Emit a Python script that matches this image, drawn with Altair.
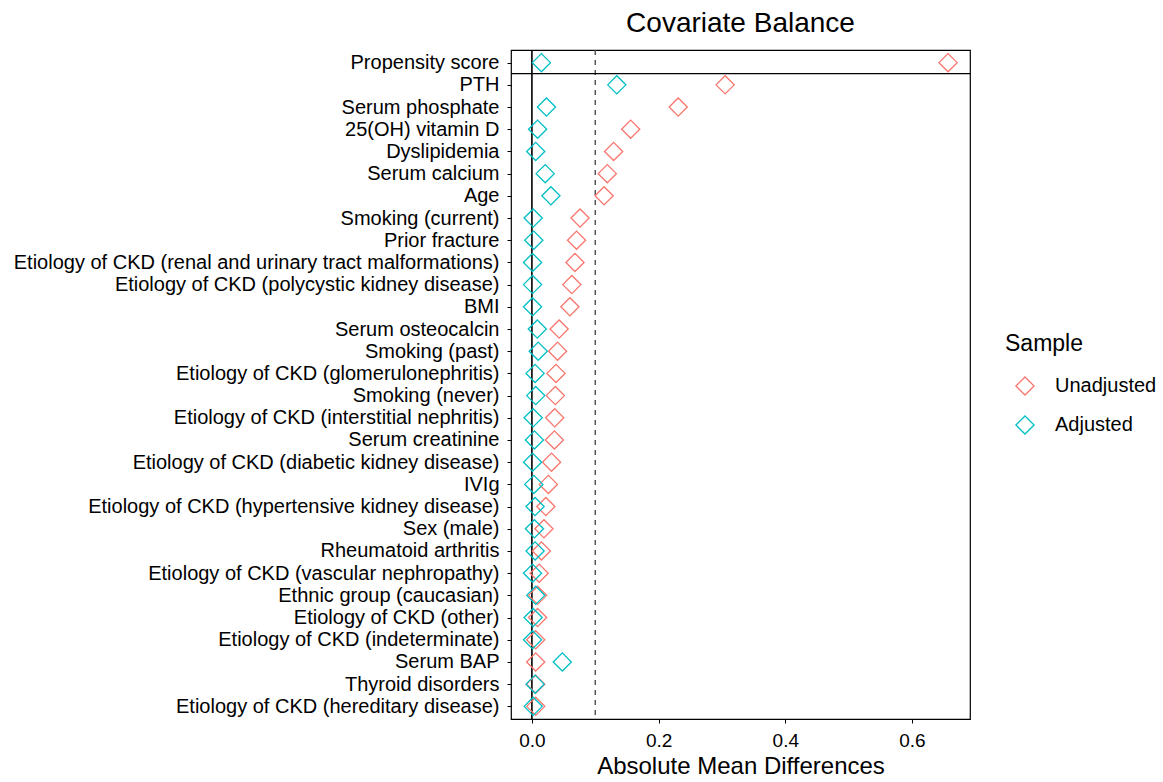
import altair as alt
import pandas as pd

# Covariates, in display order (top to bottom)
variables = [
    "Propensity score",
    "PTH",
    "Serum phosphate",
    "25(OH) vitamin D",
    "Dyslipidemia",
    "Serum calcium",
    "Age",
    "Smoking (current)",
    "Prior fracture",
    "Etiology of CKD (renal and urinary tract malformations)",
    "Etiology of CKD (polycystic kidney disease)",
    "BMI",
    "Serum osteocalcin",
    "Smoking (past)",
    "Etiology of CKD (glomerulonephritis)",
    "Smoking (never)",
    "Etiology of CKD (interstitial nephritis)",
    "Serum creatinine",
    "Etiology of CKD (diabetic kidney disease)",
    "IVIg",
    "Etiology of CKD (hypertensive kidney disease)",
    "Sex (male)",
    "Rheumatoid arthritis",
    "Etiology of CKD (vascular nephropathy)",
    "Ethnic group (caucasian)",
    "Etiology of CKD (other)",
    "Etiology of CKD (indeterminate)",
    "Serum BAP",
    "Thyroid disorders",
    "Etiology of CKD (hereditary disease)",
]

# Absolute mean differences before and after adjustment
unadjusted = [
    0.657, 0.305, 0.231, 0.156, 0.129, 0.119, 0.114, 0.076, 0.0705, 0.068,
    0.063, 0.060, 0.043, 0.0405, 0.038, 0.037, 0.036, 0.0355, 0.031, 0.026,
    0.022, 0.019, 0.015, 0.0115, 0.009, 0.009, 0.006, 0.006, 0.006, 0.006,
]
adjusted = [
    0.015, 0.134, 0.023, 0.009, 0.006, 0.021, 0.030, 0.002, 0.003, 0.001,
    0.001, 0.001, 0.0085, 0.010, 0.005, 0.006, 0.002, 0.004, 0.001, 0.003,
    0.005, 0.004, 0.005, 0.001, 0.006, 0.002, 0.001, 0.048, 0.005, 0.002,
]

samples = ["Unadjusted", "Adjusted"]
sample_colors = ["#F8766D", "#00BFC4"]

x_ticks = [0.0, 0.2, 0.4, 0.6]
threshold = [0.1]

rows = []
for name, vals in zip(samples, [unadjusted, adjusted]):
    for var, v in zip(variables, vals):
        rows.append({"Variable": var, "Sample": name, "Diff": v})
df = pd.DataFrame(rows)

FONT = "Liberation Sans"

x_scale = alt.Scale(domain=[-0.033, 0.6916], nice=False, zero=False)
y_scale = alt.Scale(type="point", domain=variables, padding=0.57)

points = alt.Chart(df).mark_point(
    shape="diamond", filled=False, size=330, strokeWidth=1.3, opacity=1
).encode(
    x=alt.X(
        "Diff:Q",
        scale=x_scale,
        axis=alt.Axis(
            values=x_ticks,
            format=".1f",
            title="Absolute Mean Differences",
            grid=False,
            labelFontSize=19,
            titleFontSize=24,
            labelPadding=8,
            titlePadding=4,
        ),
    ),
    y=alt.Y(
        "Variable:N",
        scale=y_scale,
        sort=variables,
        axis=alt.Axis(
            title=None, labelFontSize=20, labelPadding=8, labelLimit=0, grid=False
        ),
    ),
    color=alt.Color(
        "Sample:N",
        scale=alt.Scale(domain=samples, range=sample_colors),
        legend=alt.Legend(
            title="Sample",
            orient="none",
            legendX=494,
            legendY=283,
            titleFontSize=23,
            titleFontWeight="normal",
            labelFontSize=20,
            symbolType="diamond",
            symbolSize=330,
            symbolStrokeWidth=1.3,
            symbolFillColor="transparent",
            symbolOffset=10,
            labelOffset=20,
            rowPadding=15,
            titlePadding=20,
        ),
    ),
)

zero_line = alt.Chart(pd.DataFrame({"x": [0.0]})).mark_rule(
    color="black", strokeWidth=1.6
).encode(x=alt.X("x:Q", scale=x_scale))

threshold_line = alt.Chart(pd.DataFrame({"x": threshold})).mark_rule(
    color="#4d4d4d", strokeWidth=1.4, strokeDash=[5, 5]
).encode(x=alt.X("x:Q", scale=x_scale))

# Separator between the distance measure and the covariates
separator = alt.Chart(pd.DataFrame({"v": [variables[0]]})).mark_rule(
    color="black", strokeWidth=1.2, yOffset=11
).encode(y=alt.Y("v:N", scale=y_scale, sort=variables))

chart = (
    alt.layer(zero_line, threshold_line, separator, points)
    .properties(
        width=459,
        height=669,
        title=alt.Title("Covariate Balance", fontSize=28, fontWeight="normal", offset=11),
        autosize=alt.AutoSizeParams(type="none"),
        padding={"left": 511, "top": 50, "right": 193, "bottom": 63},
    )
    .configure(font=FONT, background="white")
    .configure_view(stroke="black", strokeWidth=1.2)
    .configure_axis(
        domain=False,
        tickColor="black",
        tickSize=4,
        labelColor="black",
        titleColor="black",
        labelFont=FONT,
        titleFont=FONT,
        titleFontWeight="normal",
    )
    .configure_legend(labelColor="black", titleColor="black", labelFont=FONT, titleFont=FONT)
    .configure_title(font=FONT, color="black", anchor="middle")
)

chart.save("out.html", embed_options={"renderer": "svg", "actions": False})
